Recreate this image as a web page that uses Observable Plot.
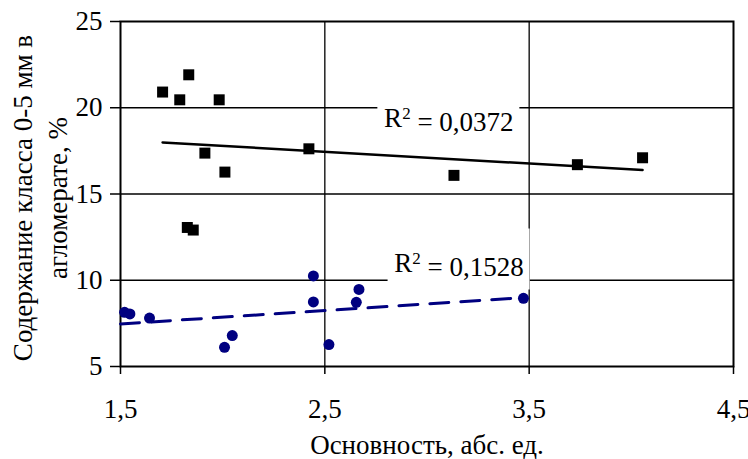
<!DOCTYPE html>
<html><head><meta charset="utf-8">
<script src="https://cdn.jsdelivr.net/npm/d3@7"></script>
<script src="https://cdn.jsdelivr.net/npm/@observablehq/plot@0.6"></script>
<style>body{margin:0;background:#fff}</style>
</head><body><div id="chart"></div>
<script>
// Series 1 (black squares)
const squareX = [1.706, 1.79, 1.827, 1.834, 1.856, 1.913, 1.983, 2.011, 2.422, 3.132, 3.736, 4.055];
const squareY = [20.91, 20.46, 13.06, 21.91, 12.91, 17.37, 20.46, 16.27, 17.62, 16.08, 16.70, 17.10];
// Series 2 (navy circles)
const circleX = [1.52, 1.546, 1.642, 2.009, 2.047, 2.444, 2.444, 2.52, 2.654, 2.667, 3.472];
const circleY = [8.14, 8.05, 7.81, 6.11, 6.79, 10.25, 8.74, 6.27, 8.72, 9.47, 8.95];
// Linear trend lines (endpoints)
const trendSquareX = [1.706, 4.055];
const trendSquareY = [17.99, 16.39];
const trendCircleX = [1.5, 3.472];
const trendCircleY = [7.47, 8.99];
// R² labels
const labelValue = ["0,0372", "0,1528"];
const labelX = [3.107, 3.157];
const labelY = [19.40, 11.00];
// Axes
const xTicks = [1.5, 2.5, 3.5, 4.5];
const yTicks = [5, 10, 15, 20, 25];
const xTitle = "Основность, абс. ед.";
const yTitle = "Содержание класса 0-5 мм в\nагломерате, %";

const FONT = "'Liberation Serif', 'Times New Roman', serif";
const squares = squareX.map((x, i) => ({x, y: squareY[i]}));
const circles = circleX.map((x, i) => ({x, y: circleY[i]}));
const trendSquare = trendSquareX.map((x, i) => ({x, y: trendSquareY[i]}));
const trendCircle = trendCircleX.map((x, i) => ({x, y: trendCircleY[i]}));
const labels = labelValue.map((v, i) => ({t: "R2 = " + v, v, x: labelX[i], y: labelY[i]}));
const fmt = d => String(d).replace(".", ",");

const chart = Plot.plot({
  width: 748, height: 459,
  marginLeft: 120, marginRight: 15, marginTop: 21, marginBottom: 93,
  style: {fontFamily: FONT, fontSize: "27px", color: "#000", background: "#fff", overflow: "visible"},
  x: {domain: [1.5, 4.5]},
  y: {domain: [5, 25]},
  marks: [
    Plot.ruleX(xTicks.slice(1, -1), {stroke: "#000", strokeWidth: 1.3}),
    Plot.ruleY(yTicks.slice(1, -1), {stroke: "#000", strokeWidth: 1.3}),
    Plot.rect(labels, {x1: "x", x2: "x", y1: "y", y2: "y", fill: "#fff",
      insetLeft: -71, insetRight: -71, insetTop: -34, insetBottom: -27}),
    Plot.frame({stroke: "#000", strokeWidth: 2}),
    Plot.axisX({ticks: xTicks, tickSize: 8, tickPadding: 24, tickFormat: fmt, label: null, fontSize: 27, fontFamily: FONT, strokeWidth: 1.5}),
    Plot.axisY({ticks: yTicks, tickSize: 10, tickPadding: 8, label: null, fontSize: 27, fontFamily: FONT, strokeWidth: 1.5}),
    Plot.line(trendSquare, {x: "x", y: "y", stroke: "#000", strokeWidth: 2.5}),
    Plot.line(trendCircle, {x: "x", y: "y", stroke: "#000080", strokeWidth: 3, strokeDasharray: "19,12"}),
    Plot.dot(squares, {x: "x", y: "y", symbol: "square", r: 6.2, fill: "#000", stroke: null}),
    Plot.dot(circles, {x: "x", y: "y", symbol: "circle", r: 5.5, fill: "#000080", stroke: null}),
    Plot.text(labels, {x: "x", y: "y", text: "t", fontSize: 27, fontFamily: FONT}),
    Plot.text([xTitle], {frameAnchor: "bottom", lineAnchor: "middle", dy: 78.7, fontSize: 27, fontFamily: FONT}),
    Plot.text([yTitle], {frameAnchor: "left", textAnchor: "middle", lineAnchor: "middle", rotate: -90, dx: -82.5, dy: 4, lineHeight: 1.32, fontSize: 27, fontFamily: FONT})
  ]
});
document.getElementById("chart").appendChild(chart);

// Render the "2" of R² as a true superscript
const byText = new Map(labels.map(d => [d.t, d]));
chart.querySelectorAll("text").forEach(el => {
  const d = byText.get(el.textContent);
  if (!d) return;
  el.textContent = "";
  const ns = "http://www.w3.org/2000/svg";
  const a = document.createElementNS(ns, "tspan"); a.textContent = "R";
  const b = document.createElementNS(ns, "tspan"); b.textContent = "2";
  b.setAttribute("dy", "-0.47em"); b.setAttribute("font-size", "17px");
  const c = document.createElementNS(ns, "tspan"); c.textContent = " = " + d.v;
  c.setAttribute("dy", "12.7px");
  el.append(a, b, c);
});
</script>
</body></html>
